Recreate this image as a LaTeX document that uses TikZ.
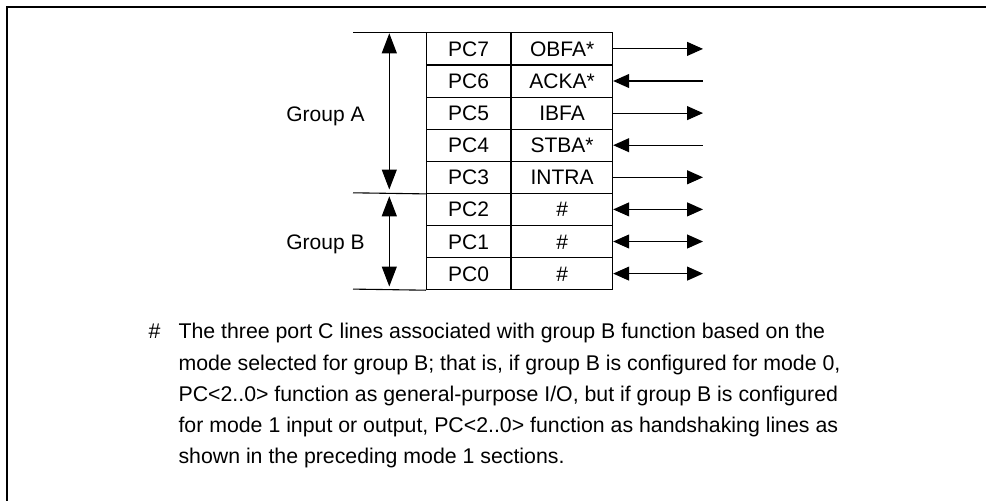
\documentclass[tikz,border=0pt]{standalone}
\usepackage{fontspec}
\setmainfont{Liberation Sans}
\usetikzlibrary{arrows.meta}
\begin{document}
\begin{tikzpicture}[x=1pt,y=-1pt,
  line width=1.1pt,
  cell/.style={draw, line width=1.1pt, minimum height=32.1pt, inner sep=0pt,
    text height=15pt, text depth=0pt, font=\fontsize{21}{25}\selectfont, anchor=north west},
  pccell/.style={cell, minimum width=84pt},
  sgcell/.style={cell, minimum width=101pt},
  lbl/.style={font=\fontsize{21}{25}\selectfont, inner sep=0pt, anchor=base},
  body/.style={font=\fontsize{21.3}{26}\selectfont, inner sep=0pt, anchor=base west},
  outarrow/.style={-{Triangle[length=16pt,width=14pt]}},
  inarrow/.style={{Triangle[length=16pt,width=14pt]}-},
  bothway/.style={{Triangle[length=16pt,width=14pt]}-{Triangle[length=16pt,width=14pt]}},
  grouparrow/.style={{Triangle[length=20pt,width=15pt]}-{Triangle[length=20pt,width=15pt]}}
]
\useasboundingbox (0,0) rectangle (986,501);
% frame
\coordinate (fbl) at (6.5,502);
\coordinate (ftl) at (6.5,7);
\coordinate (ftr) at (987,7);
\draw[line width=2pt] (fbl) -- (ftl) -- (ftr);

% table cells
\foreach \n/\s [count=\k from 0] in {7/OBFA*,6/ACKA*,5/IBFA,4/STBA*,3/INTRA,2/\#,1/\#,0/\#}{
  \node[pccell] (pc\n) at (426,32.3+32.1*\k) {PC\n};
  \node[sgcell] (sg\n) at (pc\n.north east) {\s};
}

% extended horizontal lines
\coordinate (ltop) at (353,32.3);
\coordinate (lmid) at (353,192.8);
\coordinate (lbot) at (353,289.1);
\draw (ltop) -- (pc7.north west);
\draw (lmid) -- (pc3.south west);
\draw (lbot) -- (pc0.south west);

% group arrows
\coordinate (gat) at (389.3,33.3);
\coordinate (gab) at (389.3,189.5);
\coordinate (gbt) at (389.3,196.3);
\coordinate (gbb) at (389.3,286.5);
\draw[grouparrow] (gat) -- (gab);
\draw[grouparrow] (gbt) -- (gbb);

\node[lbl] (ga) at (325.5,121) {Group A};
\node[lbl] (gb) at (325.5,249) {Group B};

% signal arrows
\coordinate (ext) at (703,0);
\draw[outarrow] (sg7.east) -- (sg7.east -| ext);
\draw[inarrow] (sg6.east) -- (sg6.east -| ext);
\draw[outarrow] (sg5.east) -- (sg5.east -| ext);
\draw[inarrow] (sg4.east) -- (sg4.east -| ext);
\draw[outarrow] (sg3.east) -- (sg3.east -| ext);
\draw[bothway] (sg2.east) -- (sg2.east -| ext);
\draw[bothway] (sg1.east) -- (sg1.east -| ext);
\draw[bothway] (sg0.east) -- (sg0.east -| ext);

% footnote
\node[body] (hash) at (148,338.5) {\#};
\node[body] (l1) at (178,338.5) {The three port C lines associated with group B function based on the};
\node[body] (l2) at (178,370) {mode selected for group B; that is, if group B is configured for mode 0,};
\node[body] (l3) at (178,401.5) {PC<2..0> function as general-purpose I/O, but if group B is configured};
\node[body] (l4) at (178,432.5) {for mode 1 input or output, PC<2..0> function as handshaking lines as};
\node[body] (l5) at (178,463.5) {shown in the preceding mode 1 sections.};
\end{tikzpicture}
\end{document}
